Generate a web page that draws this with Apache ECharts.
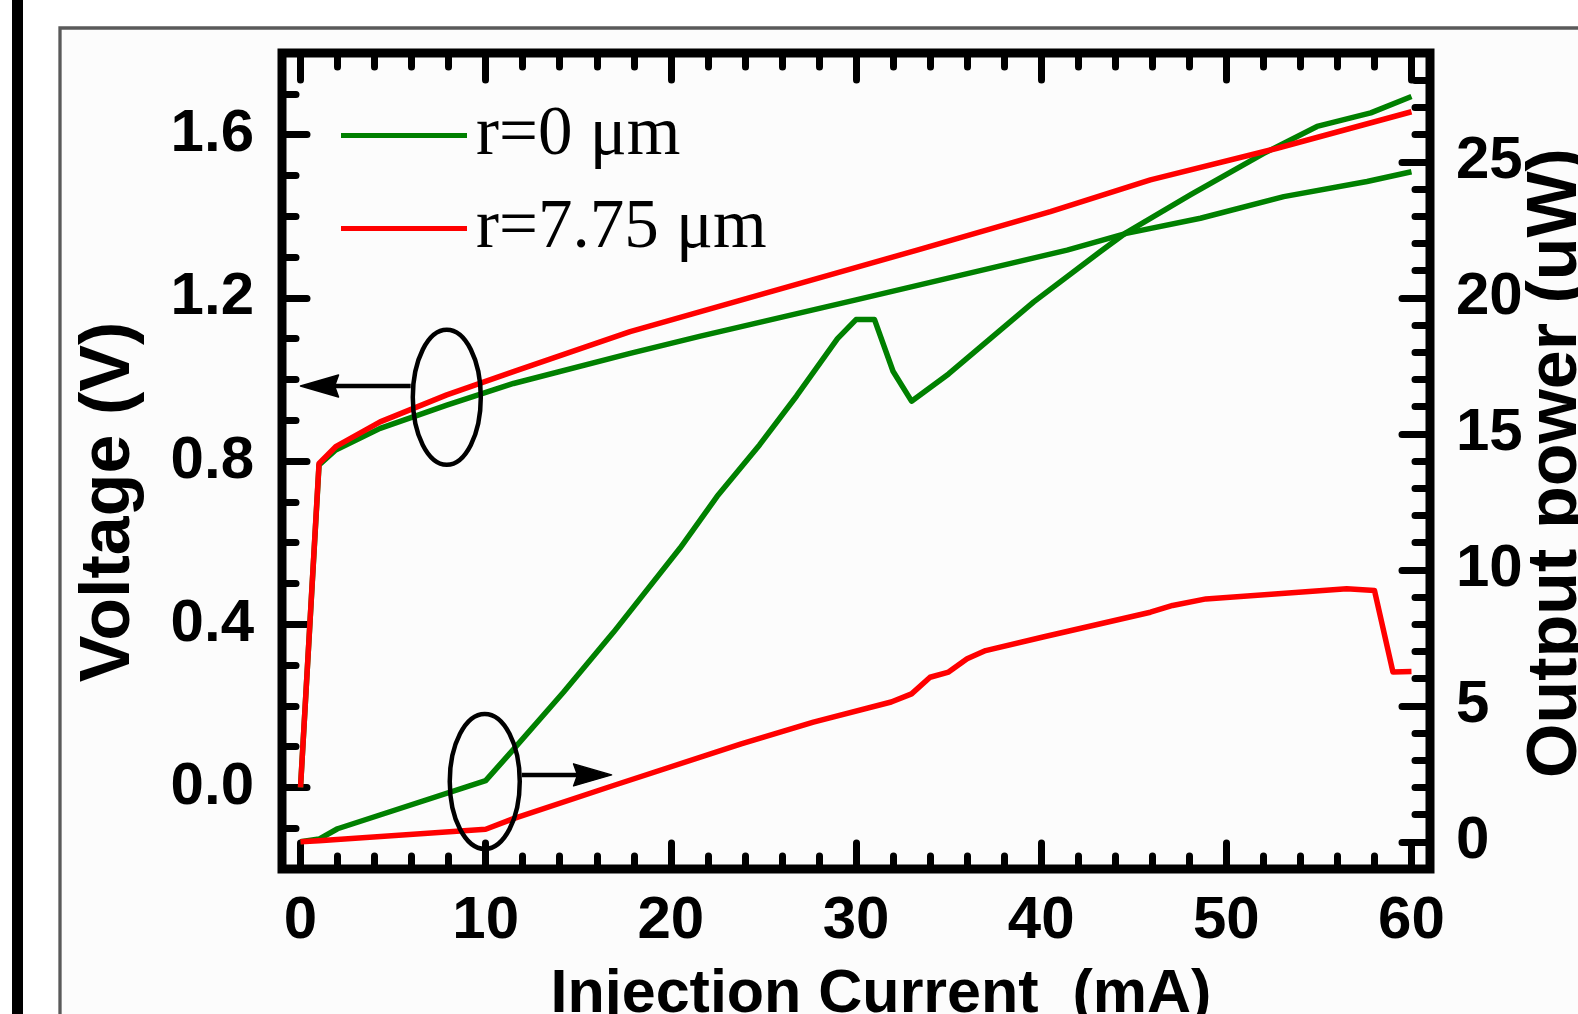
<!DOCTYPE html>
<html><head><meta charset="utf-8">
<script src="https://cdn.jsdelivr.net/npm/echarts@6/dist/echarts.min.js"></script>
<style>html,body{margin:0;padding:0;background:#fff;}#c{width:1578px;height:1014px;}</style>
</head><body><div id="c"></div>
<script>
// ---- data ----
const seriesNames = ['r=0 μm', 'r=7.75 μm'];
// Voltage (V) vs injection current (mA)
const v0Current = [0, 1, 1.9, 4.3, 7.9, 11.5, 17.8, 21.6, 30, 41.4, 44.6, 48.6, 53.1, 57.6, 60];
const v0Voltage = [0, 0.79, 0.827, 0.88, 0.937, 0.99, 1.064, 1.106, 1.195, 1.317, 1.358, 1.395, 1.448, 1.485, 1.509];
const v775Current = [0, 1, 1.9, 4.3, 7.9, 11.5, 17.8, 21.6, 33.3, 40.5, 45.9, 52.7, 60];
const v775Voltage = [0, 0.794, 0.835, 0.896, 0.962, 1.019, 1.117, 1.166, 1.317, 1.411, 1.489, 1.566, 1.656];
// Output power (uW) vs injection current (mA)
const p0Current = [0, 1, 2, 10, 11.5, 14.2, 16.9, 20.5, 22.5, 24.8, 26.8, 29, 30, 31, 32, 33, 35, 39.6, 43.2, 44.6, 48.1, 52, 54.9, 57.8, 60];
const p0Power = [0, 0.1, 0.48, 2.25, 3.4, 5.5, 7.7, 10.8, 12.7, 14.6, 16.4, 18.5, 19.2, 19.2, 17.3, 16.2, 17.2, 19.85, 21.7, 22.4, 23.8, 25.3, 26.3, 26.8, 27.4];
const p775Current = [0, 1, 10, 11.5, 16.9, 23.8, 27.7, 31.9, 33, 34, 35, 36, 37, 40.1, 45.9, 47.1, 48.9, 54.1, 56.5, 58, 59, 60];
const p775Power = [0, 0.04, 0.46, 0.85, 2.07, 3.6, 4.4, 5.14, 5.44, 6.05, 6.24, 6.73, 7.03, 7.53, 8.44, 8.69, 8.93, 9.18, 9.3, 9.24, 6.24, 6.26];
// tick values
const xMajorTicks = [0, 10, 20, 30, 40, 50, 60];
const xMinorTicks = [0, 2, 4, 6, 8, 10, 12, 14, 16, 18, 20, 22, 24, 26, 28, 30, 32, 34, 36, 38, 40, 42, 44, 46, 48, 50, 52, 54, 56, 58, 60];
const vMajorTicks = [0, 0.4, 0.8, 1.2, 1.6];
const vMinorTicks = [-0.1, 0, 0.1, 0.2, 0.3, 0.4, 0.5, 0.6, 0.7, 0.8, 0.9, 1.0, 1.1, 1.2, 1.3, 1.4, 1.5, 1.6, 1.7];
const pMajorTicks = [0, 5, 10, 15, 20, 25];
const pMinorTicks = [0, 1, 2, 3, 4, 5, 6, 7, 8, 9, 10, 11, 12, 13, 14, 15, 16, 17, 18, 19, 20, 21, 22, 23, 24, 25, 26, 27, 28];
const xRange = [-1, 61], vRange = [-0.2, 1.8], pRange = [-1, 29];
const axisTitles = { x: 'Injection Current  (mA)', left: 'Voltage (V)', right: 'Output power (uW)' };

function pairs(xs, ys) { return xs.map((x, i) => [x, ys[i]]); }

const chart = echarts.init(document.getElementById('c'), null, { renderer: 'canvas' });
const labelFont = { fontFamily: 'Liberation Sans, Arial, sans-serif', fontWeight: 'bold', fontSize: 60, color: '#000' };
const tickStyle = { color: '#000', width: 7, cap: 'round' };
function axis(pos, range, ticks, len, labelCfg) {
  return {
    type: 'value', position: pos, min: range[0], max: range[1],
    axisLine: { show: false, onZero: false }, splitLine: { show: false },
    axisTick: { show: true, inside: true, length: len, customValues: ticks, lineStyle: tickStyle },
    axisLabel: labelCfg ? Object.assign({ show: true }, labelFont, labelCfg) : { show: false }
  };
}
const GREEN = '#008000', RED = '#ff0000';
const lineSeries = (name, y, data, color) => ({
  name, type: 'line', xAxisIndex: 0, yAxisIndex: y, data, symbol: 'none', smooth: false,
  lineStyle: { color, width: 5.5, join: 'round' }, itemStyle: { color }, animation: false
});

chart.setOption({
  animation: false,
  backgroundColor: 'transparent',
  grid: { left: 282, top: 53, width: 1148, height: 816, show: true, borderColor: '#000', borderWidth: 9, backgroundColor: 'transparent' },
  legend: {
    data: seriesNames, orient: 'vertical', left: 336, top: 96, itemGap: 24, icon: 'rect',
    itemWidth: 126, itemHeight: 5, selectedMode: false,
    textStyle: { fontFamily: 'Liberation Serif, Times New Roman, serif', fontSize: 69, lineHeight: 60, color: '#000', padding: [0, 0, 0, 4] }
  },
  xAxis: [
    axis('bottom', xRange, xMajorTicks, 26, { customValues: xMajorTicks, margin: 22 }),
    axis('bottom', xRange, xMinorTicks, 13, null),
    axis('top', xRange, xMajorTicks, 27, null),
    axis('top', xRange, xMinorTicks, 14, null)
  ],
  yAxis: [
    axis('left', vRange, vMajorTicks, 25, { customValues: vMajorTicks, margin: 28, formatter: v => v.toFixed(1) }),
    axis('left', vRange, vMinorTicks, 14, null),
    axis('right', pRange, pMajorTicks, 28, { customValues: pMajorTicks, margin: 26 }),
    axis('right', pRange, pMinorTicks, 15, null)
  ],
  series: [
    lineSeries(seriesNames[0], 0, pairs(v0Current, v0Voltage), GREEN),
    lineSeries(seriesNames[0], 2, pairs(p0Current, p0Power), GREEN),
    lineSeries(seriesNames[1], 0, pairs(v775Current, v775Voltage), RED),
    lineSeries(seriesNames[1], 2, pairs(p775Current, p775Power), RED)
  ]
});

// annotations (ellipses + arrows) anchored in data space
const V = (x, y) => chart.convertToPixel({ xAxisIndex: 0, yAxisIndex: 0 }, [x, y]);
const P = (x, y) => chart.convertToPixel({ xAxisIndex: 0, yAxisIndex: 2 }, [x, y]);
const e1 = V(7.9, 0.956), a1s = V(5.95, 0.984), a1e = V(0, 0.984);
const e2 = P(9.95, 2.22), a2s = P(11.95, 2.46), a2e = P(16.8, 2.46);
const annStroke = { stroke: '#000', lineWidth: 4.5, fill: 'none' };
function arrow(s, e, dir) {
  const head = 38, hw = 11;
  const bx = e[0] - dir * head;
  return [
    { type: 'line', shape: { x1: s[0], y1: s[1], x2: bx + dir * 4, y2: e[1] }, style: { stroke: '#000', lineWidth: 4.5 }, z: 100 },
    { type: 'polygon', shape: { points: [[e[0], e[1]], [bx, e[1] - hw], [bx + dir * 4, e[1]], [bx, e[1] + hw]] }, style: { fill: '#000', stroke: '#000', lineWidth: 1.5, lineJoin: 'round' }, z: 100 }
  ];
}
const gfont = 'bold {s}px "Liberation Sans", Arial, sans-serif';
chart.setOption({
  graphic: [
    { type: 'rect', shape: { x: 60, y: 28, width: 1700, height: 1200 }, style: { fill: '#fcfcfc', stroke: '#5a5a5a', lineWidth: 3.3 }, z: -10, silent: true },
    { type: 'rect', shape: { x: 12, y: 0, width: 11, height: 1014 }, style: { fill: '#000' }, z: -10, silent: true },
    { type: 'ellipse', shape: { cx: e1[0], cy: e1[1], rx: 34, ry: 67.5 }, style: annStroke, z: 100 },
    { type: 'ellipse', shape: { cx: e2[0], cy: e2[1], rx: 35, ry: 67.5 }, style: annStroke, z: 100 },
    ...arrow(a1s, a1e, -1),
    ...arrow(a2s, a2e, 1),
    { type: 'text', x: 110, y: 502, rotation: Math.PI / 2, style: { text: axisTitles.left, font: gfont.replace('{s}', 70), fill: '#000', textAlign: 'center', textVerticalAlign: 'middle' }, z: 100 },
    { type: 'text', x: 1557, y: 463, rotation: Math.PI / 2, style: { text: axisTitles.right, font: gfont.replace('{s}', 70), fill: '#000', textAlign: 'center', textVerticalAlign: 'middle' }, z: 100 },
    { type: 'text', x: 881, y: 995, style: { text: axisTitles.x, font: gfont.replace('{s}', 61), fill: '#000', textAlign: 'center', textVerticalAlign: 'middle' }, z: 100 }
  ]
});
</script></body></html>
